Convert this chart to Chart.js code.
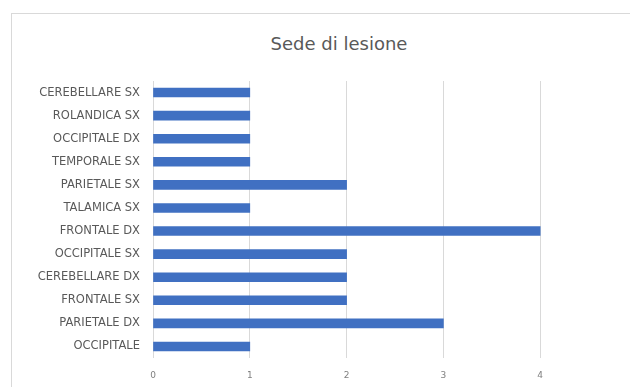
<!DOCTYPE html>
<html lang="it">
<head>
    <meta charset="UTF-8">
    <title>Sede di lesione</title>
    <script src="https://cdnjs.cloudflare.com/ajax/libs/Chart.js/4.4.0/chart.umd.min.js"></script>
    <style>
        * { margin: 0; padding: 0; box-sizing: border-box; }
        html, body {
            width: 630px;
            height: 387px;
            overflow: hidden;
            background: #ffffff;
            font-family: 'DejaVu Sans', sans-serif;
        }
        .frame {
            position: absolute;
            left: 11px;
            top: 13px;
            width: 700px;
            height: 400px;
            border: 1px solid #d9d9d9;
        }
        .title {
            position: absolute;
            left: 219px;
            width: 240px;
            top: 33px;
            text-align: center;
            font-size: 18px;
            color: #595959;
        }
        .chart-box {
            position: absolute;
            left: 0;
            top: 0;
            width: 680px;
            height: 387px;
        }
    </style>
</head>
<body>
    <div class="frame"></div>
    <div class="title">Sede di lesione</div>
    <div class="chart-box">
        <canvas id="lesionChart" width="680" height="387"></canvas>
    </div>

    <script>
        // categories listed from the bottom of the chart up (Excel order)
        const categories = [
            'OCCIPITALE', 'PARIETALE DX', 'FRONTALE SX', 'CEREBELLARE DX',
            'OCCIPITALE SX', 'FRONTALE DX', 'TALAMICA SX', 'PARIETALE SX',
            'TEMPORALE SX', 'OCCIPITALE DX', 'ROLANDICA SX', 'CEREBELLARE SX'
        ];
        const counts = [1, 3, 2, 2, 2, 4, 1, 2, 1, 1, 1, 1];
        const xTicks = [0, 1, 2, 3, 4, 5];

        const ctx = document.getElementById('lesionChart').getContext('2d');

        new Chart(ctx, {
            type: 'bar',
            data: {
                labels: categories,
                datasets: [{
                    label: 'Sede di lesione',
                    data: counts,
                    backgroundColor: '#4070c2',
                    barThickness: 9
                }]
            },
            options: {
                indexAxis: 'y',
                responsive: false,
                animation: false,
                layout: { padding: { top: 81, right: 43, left: 0, bottom: 0 } },
                plugins: {
                    legend: { display: false },
                    title: { display: false },
                    tooltip: { enabled: false }
                },
                scales: {
                    x: {
                        min: 0,
                        max: 5,
                        afterBuildTicks: function (axis) {
                            axis.ticks = xTicks.map(v => ({ value: v }));
                        },
                        afterFit: function (axis) { axis.height = 29; },
                        grid: { color: '#d9d9d9', drawTicks: false },
                        border: { display: false },
                        ticks: {
                            padding: 12,
                            color: '#7f7f7f',
                            font: { family: 'DejaVu Sans', size: 9 }
                        }
                    },
                    y: {
                        reverse: true,
                        afterFit: function (axis) { axis.width = 153; },
                        grid: { display: false, drawTicks: false },
                        border: { display: false },
                        ticks: {
                            padding: 13,
                            color: '#595959',
                            font: { family: 'DejaVu Sans', size: 11.5 }
                        }
                    }
                }
            }
        });
    </script>
</body>
</html>
